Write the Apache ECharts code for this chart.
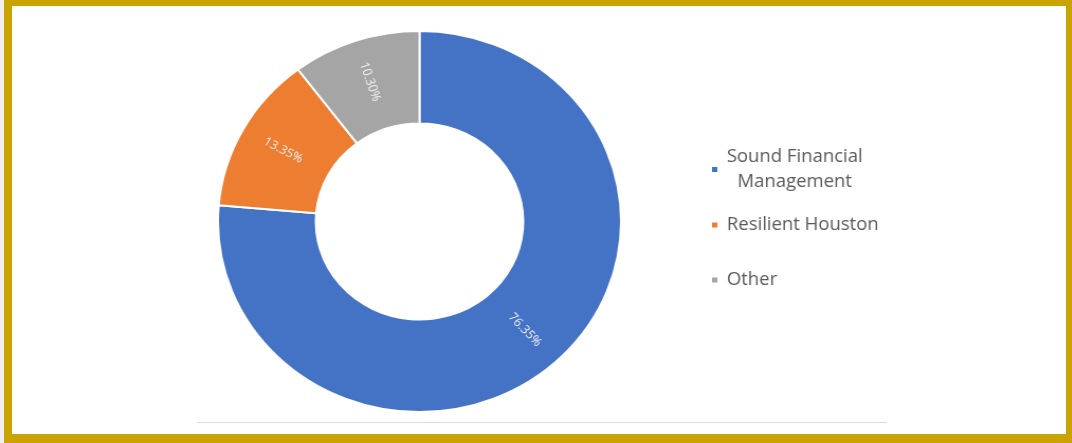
<!DOCTYPE html>
<html>
<head>
<meta charset="utf-8">
<script src="https://cdn.jsdelivr.net/npm/echarts@6/dist/echarts.min.js"></script>
<style>
html,body{margin:0;padding:0;width:1072px;height:443px;overflow:hidden;background:#efefef;}
#frame{position:absolute;left:4px;top:0;width:1054px;height:428px;background:#fff;
  border-left:8px solid #C9A400;border-top:6px solid #C9A400;border-right:6px solid #C9A400;border-bottom:9px solid #C9A400;}
#chart{position:absolute;left:0;top:0;width:1013px;height:443px;transform:scaleX(1.058);transform-origin:0 0;}
</style>
</head>
<body>
<div id="frame"></div>
<div id="chart"></div>
<script>
const categories = ['Sound Financial Management', 'Resilient Houston', 'Other'];
const values = [76.35, 13.35, 10.30];
const colors = ['#4472C4', '#ED7D31', '#A5A5A5'];
const legendTops = [148, 216, 271];

const chart = echarts.init(document.getElementById('chart'), null, {renderer: 'canvas'});

const legends = categories.map((name, i) => ({
  data: [name],
  orient: 'vertical',
  left: 671,
  top: legendTops[i],
  padding: 0,
  itemWidth: 7,
  itemHeight: 7,
  icon: 'rect',
  selectedMode: false,
  formatter: n => n === 'Sound Financial Management' ? '{a|Sound Financial}\n{a|Management}' : '{a|' + n + '}',
  textStyle: {
    color: '#595959',
    fontFamily: 'Open Sans',
    fontSize: 17.5,
    padding: [0, 0, 0, 3],
    rich: {a: {align: 'center', fontFamily: 'Open Sans', fontSize: 17.5, color: '#595959', lineHeight: 25}}
  }
}));

chart.setOption({
  animation: false,
  color: colors,
  legend: legends,
  graphic: [{
    type: 'line',
    shape: {x1: 186, y1: 422.5, x2: 838, y2: 422.5},
    style: {stroke: '#d9d9d9', lineWidth: 1}
  }],
  series: [{
    type: 'pie',
    center: [396.5, 221.5],
    radius: [98, 190.5],
    startAngle: 90,
    clockwise: true,
    avoidLabelOverlap: false,
    itemStyle: {borderColor: '#ffffff', borderWidth: 2},
    label: {
      show: true,
      position: 'inside',
      rotate: 'radial',
      color: '#f2f2f2',
      fontFamily: 'Open Sans',
      fontSize: 12,
      formatter: p => p.value.toFixed(2) + '%'
    },
    labelLine: {show: false},
    emphasis: {disabled: true},
    data: categories.map((c, i) => ({name: c, value: values[i]}))
  }]
});
</script>
</body>
</html>
